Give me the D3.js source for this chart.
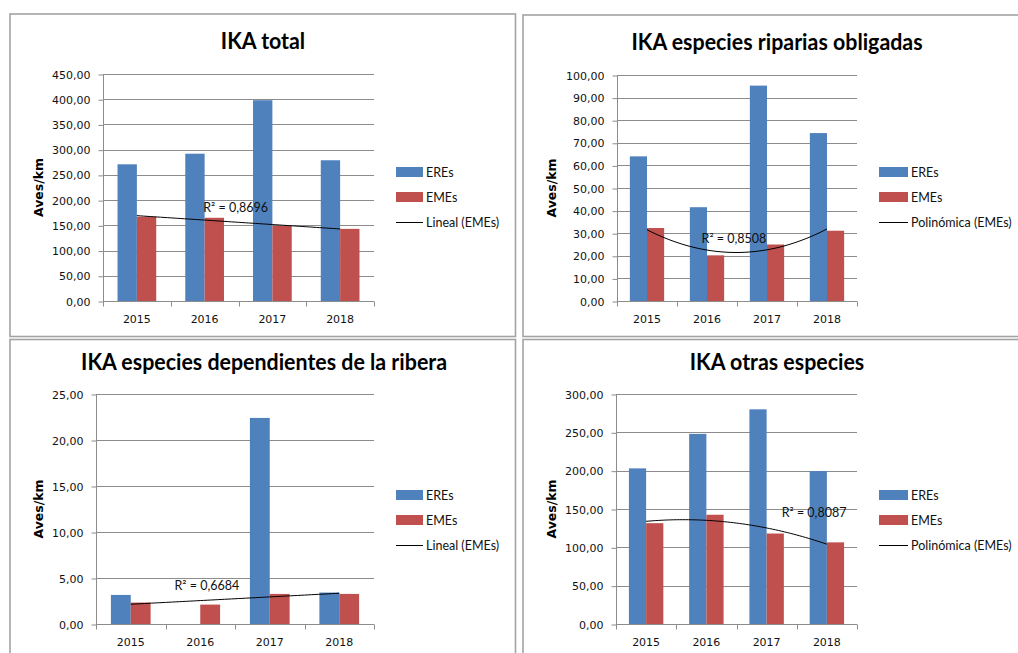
<!DOCTYPE html>
<html>
<head>
<meta charset="utf-8">
<script src="https://cdn.jsdelivr.net/npm/d3@7"></script>
<style>
  body { margin: 0; background: #fff; }
  svg { display: block; }
  .title { font-family: Lato, "Noto Sans", sans-serif; font-weight: 700; font-size: 23px; }
  .tick text, .xlab { font-family: "DejaVu Sans", Verdana, sans-serif; font-size: 11px; fill: #111; }
  .ytitle { font-family: "DejaVu Sans", Verdana, sans-serif; font-weight: 700; font-size: 12.5px; }
  .leg, .r2 { font-family: Lato, "Noto Sans", sans-serif; font-size: 12.5px; fill: #111; }
</style>
</head>
<body>
<div id="chart"></div>
<script>
'use strict';

// categories
var years = ["2015", "2016", "2017", "2018"];
var seriesNames = ["EREs", "EMEs"];

// IKA total
var totalEREs = [271, 292, 398, 279];
var totalEMEs = [167, 165, 149, 143];
var totalTicks = [0, 50, 100, 150, 200, 250, 300, 350, 400, 450];

// IKA especies riparias obligadas
var ripEREs = [64, 41.5, 95.3, 74.3];
var ripEMEs = [32.3, 20.2, 25, 31.1];
var ripTicks = [0, 10, 20, 30, 40, 50, 60, 70, 80, 90, 100];

// IKA especies dependientes de la ribera (no ERE value for 2016)
var depEREs = [3.16, null, 22.4, 3.42];
var depEMEs = [2.33, 2.11, 3.27, 3.27];
var depTicks = [0, 5, 10, 15, 20, 25];

// IKA otras especies
var otrEREs = [203, 248, 280, 199.5];
var otrEMEs = [131.5, 142.5, 118, 106.5];
var otrTicks = [0, 50, 100, 150, 200, 250, 300];

var titles = ["IKA total", "IKA especies riparias obligadas",
    "IKA especies dependientes de la ribera", "IKA otras especies"];
var trendNames = ["Lineal (EMEs)", "Polinómica (EMEs)", "Lineal (EMEs)", "Polinómica (EMEs)"];
var trendDegrees = [1, 2, 1, 2];
var r2Labels = ["R² = 0,8696", "R² = 0,8508", "R² = 0,6684", "R² = 0,8087"];

var W = 1018, H = 653;
var blue = "#4f81bd", red = "#c0504d", grid = "#8c8c8c";

var es = d3.formatLocale({ decimal: ",", thousands: ".", grouping: [3], currency: ["", " €"] });
var fmt = es.format(".2f");

var svg = d3.select("#chart").append("svg").attr("width", W).attr("height", H);

// panel frames
var frames = [[10, 14, 505.5, 322.5], [523, 15, 520, 321.5], [10, 339.5, 505.5, 330], [523, 339.5, 520, 330]];
svg.selectAll("rect.frame").data(frames).enter().append("rect")
    .attr("class", "frame")
    .attr("x", function (d) { return d[0]; })
    .attr("y", function (d) { return d[1]; })
    .attr("width", function (d) { return d[2]; })
    .attr("height", function (d) { return d[3]; })
    .attr("fill", "none").attr("stroke", "#a3a3a3").attr("stroke-width", 1.6);

var panels = [
    { ere: totalEREs, eme: totalEMEs, ticks: totalTicks,
      plot: [103, 74, 374, 301], title: [263, 49], ytx: 38, leg: [396, 423, 172], r2at: [0.98, 176] },
    { ere: ripEREs, eme: ripEMEs, ticks: ripTicks,
      plot: [617, 75, 857, 301], title: [777, 50], ytx: 551, leg: [879, 908, 172], r2at: [0.91, 25.5] },
    { ere: depEREs, eme: depEMEs, ticks: depTicks,
      plot: [96, 394, 374, 624], title: [264, 370], ytx: 38, leg: [396, 423, 495], r2at: [0.63, 3.67] },
    { ere: otrEREs, eme: otrEMEs, ticks: otrTicks,
      plot: [616, 394, 857, 624], title: [777, 370], ytx: 551, leg: [879, 908, 495], r2at: [2.25, 140] }
];

panels.forEach(function (p, i) { drawPanel(p, i); });

function polyFit(ys, degree) {
    // least squares on x = 0..n-1
    var pts = [];
    ys.forEach(function (v, k) { if (v != null) pts.push([k, v]); });
    var m = degree + 1;
    var A = [], b = [];
    for (var r = 0; r < m; r++) {
        A.push([]);
        b.push(d3.sum(pts, function (q) { return q[1] * Math.pow(q[0], r); }));
        for (var c = 0; c < m; c++) {
            A[r].push(d3.sum(pts, function (q) { return Math.pow(q[0], r + c); }));
        }
    }
    // gaussian elimination
    for (var col = 0; col < m; col++) {
        for (var row = col + 1; row < m; row++) {
            var f = A[row][col] / A[col][col];
            for (var k = col; k < m; k++) A[row][k] -= f * A[col][k];
            b[row] -= f * b[col];
        }
    }
    var coef = new Array(m);
    for (var j = m - 1; j >= 0; j--) {
        var s = b[j];
        for (var t = j + 1; t < m; t++) s -= A[j][t] * coef[t];
        coef[j] = s / A[j][j];
    }
    return function (x) {
        return d3.sum(coef, function (cf, e) { return cf * Math.pow(x, e); });
    };
}

function drawPanel(p, i) {
    var g = svg.append("g");
    var x0 = p.plot[0], y0 = p.plot[1], x1 = p.plot[2], y1 = p.plot[3];

    var x = d3.scaleBand().domain(years).range([x0, x1]).paddingInner(0).paddingOuter(0);
    var xs = d3.scaleBand().domain(seriesNames).range([0, x.bandwidth()]).paddingInner(0).paddingOuter(0.75);
    var y = d3.scaleLinear().domain([0, d3.max(p.ticks)]).range([y1, y0]);
    var xc = d3.scaleLinear().domain([0, years.length - 1])
        .range([x(years[0]) + x.bandwidth() / 2, x(years[years.length - 1]) + x.bandwidth() / 2]);

    // gridlines
    g.selectAll("line.grid").data(p.ticks.slice(1)).enter().append("line")
        .attr("x1", x0).attr("x2", x1)
        .attr("y1", function (d) { return Math.round(y(d)) + 0.5; })
        .attr("y2", function (d) { return Math.round(y(d)) + 0.5; })
        .attr("stroke", grid).attr("stroke-width", 1);

    // y axis
    var yAxis = d3.axisLeft(y).tickValues(p.ticks).tickFormat(fmt).tickSize(5).tickPadding(8);
    var ya = g.append("g").attr("transform", "translate(" + (Math.round(x0) + 0.5) + ",0.5)").call(yAxis);
    ya.select(".domain").attr("stroke", grid).attr("d", "M0," + y0 + "V" + y1);
    ya.selectAll(".tick line").attr("stroke", grid);
    ya.selectAll(".tick text").attr("fill", "#111");

    // bars
    var rows = years.map(function (yr, k) {
        return { year: yr, vals: [{ s: "EREs", v: p.ere[k] }, { s: "EMEs", v: p.eme[k] }] };
    });
    var grp = g.selectAll("g.cat").data(rows).enter().append("g")
        .attr("transform", function (d) { return "translate(" + x(d.year) + ",0)"; });
    grp.selectAll("rect").data(function (d) { return d.vals.filter(function (q) { return q.v != null; }); })
        .enter().append("rect")
        .attr("x", function (d) { return xs(d.s); })
        .attr("width", xs.bandwidth())
        .attr("y", function (d) { return y(d.v); })
        .attr("height", function (d) { return y(0) - y(d.v); })
        .attr("fill", function (d) { return d.s === "EREs" ? blue : red; });

    // x axis
    var xb = Math.round(y1) + 0.5;
    g.append("line").attr("x1", x0).attr("x2", x1).attr("y1", xb).attr("y2", xb).attr("stroke", grid);
    var bounds = years.map(function (yr) { return x(yr); }).concat([x1]);
    g.selectAll("line.xt").data(bounds).enter().append("line")
        .attr("x1", function (d) { return Math.round(d) + 0.5; })
        .attr("x2", function (d) { return Math.round(d) + 0.5; })
        .attr("y1", xb).attr("y2", xb + 5).attr("stroke", grid);
    g.selectAll("text.xlab").data(years).enter().append("text")
        .attr("class", "xlab")
        .attr("x", function (d) { return x(d) + x.bandwidth() / 2; })
        .attr("y", y1 + 22)
        .attr("text-anchor", "middle")
        .text(function (d) { return d; });

    // trend line of EMEs
    var fit = polyFit(p.eme, trendDegrees[i]);
    var line = d3.line().x(function (d) { return xc(d); }).y(function (d) { return y(fit(d)); });
    g.append("path").datum(d3.range(0, 3.001, 0.05))
        .attr("d", line).attr("fill", "none").attr("stroke", "#000").attr("stroke-width", 1);

    g.append("text").attr("class", "r2")
        .attr("x", xc(p.r2at[0])).attr("y", y(p.r2at[1]))
        .text(r2Labels[i]);

    // title (slightly condensed, like the original face)
    g.append("text").attr("class", "title")
        .attr("transform", "translate(" + p.title[0] + "," + p.title[1] + ") scale(0.93,1)")
        .attr("text-anchor", "middle").text(titles[i]);

    // y title
    g.append("text").attr("class", "ytitle")
        .attr("transform", "translate(" + p.ytx + "," + (y0 + y1) / 2 + ") rotate(-90)")
        .attr("text-anchor", "middle").attr("dominant-baseline", "central")
        .text("Aves/km");

    // legend
    var lx0 = p.leg[0], lx1 = p.leg[1], ly = p.leg[2];
    var items = [
        { name: "EREs", kind: "bar", color: blue },
        { name: "EMEs", kind: "bar", color: red },
        { name: trendNames[i], kind: "line", color: "#000" }
    ];
    var lg = g.selectAll("g.leg").data(items).enter().append("g")
        .attr("transform", function (d, k) { return "translate(0," + (ly + k * 25) + ")"; });
    lg.filter(function (d) { return d.kind === "bar"; }).append("rect")
        .attr("x", lx0).attr("y", -5).attr("width", lx1 - lx0).attr("height", 10)
        .attr("fill", function (d) { return d.color; });
    lg.filter(function (d) { return d.kind === "line"; }).append("line")
        .attr("x1", lx0).attr("x2", lx1).attr("y1", 0.5).attr("y2", 0.5)
        .attr("stroke", "#000");
    lg.append("text").attr("class", "leg")
        .attr("x", lx1 + 3).attr("y", 0).attr("dominant-baseline", "central")
        .text(function (d) { return d.name; });
}
</script>
</body>
</html>
